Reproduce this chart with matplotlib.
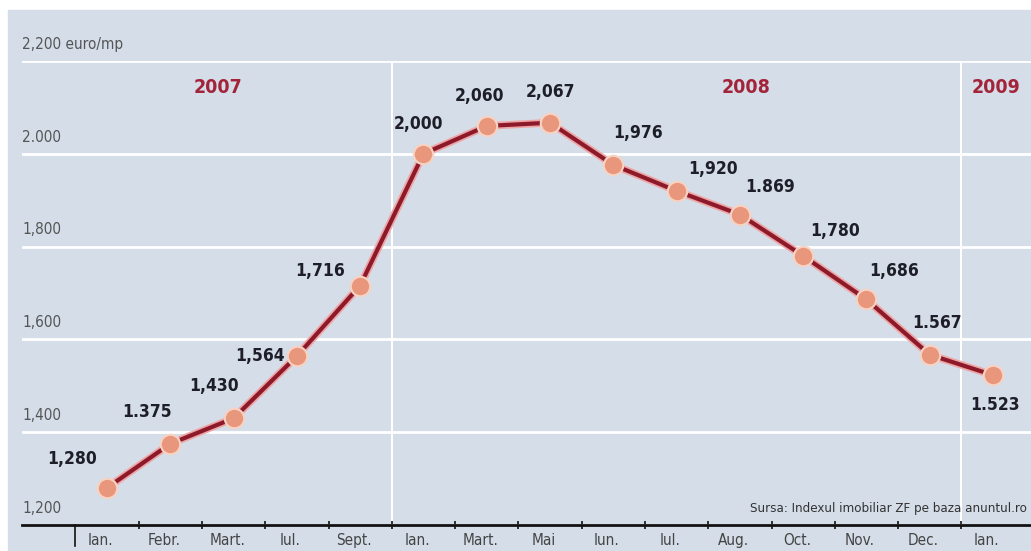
import matplotlib.pyplot as plt
import matplotlib.patheffects as pe
from matplotlib.patches import Rectangle

# date: pretul mediu pe mp (euro)
months = ["Ian.", "Febr.", "Mart.", "Iul.", "Sept.", "Ian.", "Mart.", "Mai", "Iun.",
          "Iul.", "Aug.", "Oct.", "Nov.", "Dec.", "Ian."]
prices = [1280, 1375, 1430, 1564, 1716, 2000, 2060, 2067, 1976, 1920, 1869, 1780, 1686, 1567, 1523]
price_labels = ["1,280", "1.375", "1,430", "1,564", "1,716", "2,000", "2,060", "2,067", "1,976",
                "1,920", "1.869", "1,780", "1,686", "1.567", "1.523"]
y_ticks = [1200, 1400, 1600, 1800, 2000, 2200]
y_tick_labels = ["1,200", "1,400", "1,600", "1,800", "2.000", "2,200 euro/mp"]
years = ["2007", "2008", "2009"]

# pozitii etichete (pixeli fata de punct)
label_offsets = [(-35, 29), (-23, 32), (-20, 32), (-37, 0), (-40, 15), (-5, 30), (-7, 30), (0, 31),
                 (25, 32), (36, 22), (30, 28), (32, 25), (28, 28), (7, 32), (2, -30)]
year_x = [1.75, 10.1, 14.05]
year_sep = [4.5, 13.5]

bg = "#d4dde8"
red = "#8c1a2b"
fam = "DejaVu Sans"
st = "condensed"

W, H = 1031, 551
fig = plt.figure(figsize=(W / 100, H / 100), dpi=100)
fig.patches.append(Rectangle((8 / W, 0), 1, (H - 10) / H, transform=fig.transFigure,
                             color=bg, zorder=-10))

ax = fig.add_axes([22 / W, (H - 525) / H, (1031 - 22) / W, (525 - 61) / H])
ax.set_facecolor("none")
x = list(range(len(prices)))
ax.set_xlim(-1.343, 14.6)
ax.set_ylim(1200, 2200)

for s in ["top", "right", "left"]:
    ax.spines[s].set_visible(False)
ax.spines["bottom"].set_linewidth(2)
ax.spines["bottom"].set_color("#111111")

# grila
ax.set_yticks(y_ticks)
ax.yaxis.grid(True, color="white", lw=2)
ax.tick_params(axis="y", length=0, labelleft=False)
for v, t in zip(y_ticks, y_tick_labels):
    ax.annotate(t, (0, v), xycoords=("axes fraction", "data"), xytext=(0, 12),
                textcoords="offset points", ha="left", va="center", fontsize=11,
                color="#555555", family=fam, stretch=st)

# separatoare intre ani
for s in year_sep:
    ax.axvline(s, color="white", lw=1.5, zorder=1)

for xv, yr in zip(year_x, years):
    ax.text(xv, 2142, yr, ha="center", va="center", fontsize=14, fontweight="bold",
            color="#a3243a", family=fam, stretch=st)

# axa x
ax.set_xticks([i - 0.1 for i in x])
ax.set_xticklabels(months, fontsize=11, color="#444444", family=fam, stretch=st)
ax.tick_params(axis="x", length=0, pad=6)
ax.set_xticks([i + 0.5 for i in x[:-1]], minor=True)
ax.tick_params(axis="x", which="minor", length=6, width=1.2, direction="inout", color="#111111")
ax.plot([-0.5, -0.5], [1200, 1155], color="#111111", lw=1.2, clip_on=False)

# linia
ax.plot(x, prices, color=red, lw=3, zorder=3, solid_capstyle="round",
        path_effects=[pe.Stroke(linewidth=5.5, foreground="#f0a5a5"), pe.Normal()])
ax.plot(x, prices, "o", ms=14, mfc="#e9977c", mec="#f7d3c4", mew=1.5, zorder=4)

for xi, v, t, (dx, dy) in zip(x, prices, price_labels, label_offsets):
    ax.annotate(t, (xi, v), xytext=(dx * 0.72, dy * 0.72), textcoords="offset points",
                ha="center", va="center", fontsize=12.5, fontweight="bold",
                color="#1e1e28", family=fam, stretch=st)

ax.annotate("Sursa: Indexul imobiliar ZF pe baza anuntul.ro", (1, 1200),
            xycoords=("axes fraction", "data"), xytext=(-3, 12), textcoords="offset points",
            ha="right", va="center", fontsize=9.5, color="#333333", family=fam, stretch=st)

fig.savefig("out.png", dpi=100)
